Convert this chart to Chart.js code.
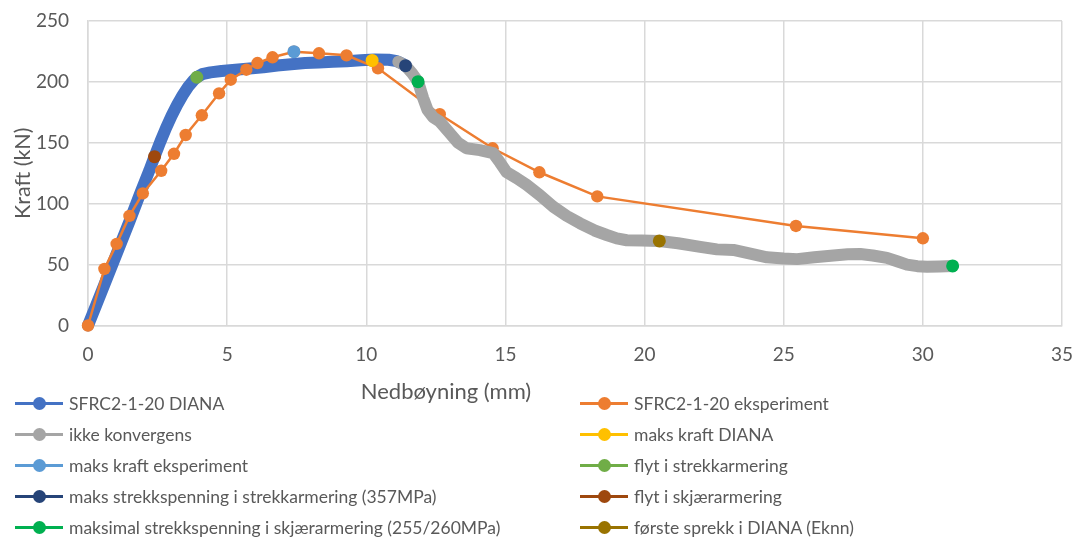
<!DOCTYPE html>
<html>
<head>
<meta charset="utf-8">
<script src="https://cdn.jsdelivr.net/npm/chart.js@4"></script>
<style>
  html, body { margin: 0; padding: 0; background: #ffffff; }
  #wrap { position: relative; width: 1076px; height: 543px; overflow: hidden; }
  #chart { position: absolute; left: 0; top: 0; }
  .xtitle {
    position: absolute; left: 446px; top: 390px; transform: translate(-50%, -50%);
    font-family: Lato, sans-serif; font-size: 22px; color: #595959; white-space: nowrap;
  }
  .item {
    position: absolute; display: flex; align-items: center; height: 24px;
    transform: translateY(-50%);
    font-family: Lato, sans-serif; font-size: 17.5px; color: #595959; white-space: nowrap;
  }
  .sym { position: relative; width: 48px; height: 14px; margin-right: 6px; flex: none; }
  .sym .ln { position: absolute; left: 0; right: 0; top: 5.5px; height: 3px; }
  .sym .dot { position: absolute; left: 18px; top: 0.5px; width: 13px; height: 13px; border-radius: 50%; }
</style>
</head>
<body>
<div id="wrap">
  <canvas id="chart" width="1076" height="543"></canvas>
  <div class="xtitle">Nedbøyning (mm)</div>
  <div id="legend"></div>
</div>
<script>
// Axis ranges and ticks
const xTicks = [0, 5, 10, 15, 20, 25, 30, 35];
const yTicks = [0, 50, 100, 150, 200, 250];

// SFRC2-1-20 DIANA (numerical load-deflection curve)
const dianaX = [0, 0.3, 0.7, 1.1, 1.5, 1.9, 2.2, 2.39, 2.6, 2.8, 3.0, 3.2, 3.4, 3.6, 3.8, 3.91,
  4.1, 4.4, 4.8, 5.3, 5.8, 6.3, 6.8, 7.3, 7.8, 8.3, 8.8, 9.3, 9.8, 10.3, 10.8, 11.1, 11.3, 11.41];
const dianaY = [0, 17, 40, 63, 86, 110, 127, 138.6, 151, 162, 172, 181, 189, 196, 201.5, 203.8,
  206.3, 207.8, 209, 210, 211, 212, 213.5, 214.5, 215.5, 216, 216.5, 217, 217.8, 218.3, 218.2, 217, 215, 213.3];

// SFRC2-1-20 eksperiment (test results)
const eksperimentX = [0, 0.59, 1.03, 1.49, 1.97, 2.63, 3.09, 3.51, 4.09, 4.71, 5.13, 5.69, 6.09, 6.63,
  7.40, 8.30, 9.29, 10.42, 12.64, 14.54, 16.22, 18.30, 25.44, 30.0];
const eksperimentY = [0, 46.4, 67, 90, 108.5, 127, 141, 156.4, 172.6, 190.6, 201.8, 210, 215.5, 220.2,
  224.8, 223.5, 221.8, 211.2, 173.5, 145.5, 125.8, 106, 81.7, 71.6];

// ikke konvergens (DIANA steps without convergence)
const konvergensX = [11.15, 11.41, 11.65, 11.86, 12.04, 12.2, 12.4, 12.64, 13.0, 13.3, 13.6, 14.08, 14.56,
  14.8, 15.04, 15.4, 15.76, 16.24, 16.72, 17.2, 17.68, 18.2, 18.64, 19.0, 19.36, 19.9, 20.53, 21.2, 22.0,
  22.6, 23.19, 23.8, 24.4, 25.0, 25.48, 26.1, 26.79, 27.3, 27.75, 28.2, 28.71, 29.1, 29.43, 29.8, 30.15, 30.6, 31.07];
const konvergensY = [216.5, 213.3, 207, 200.2, 187, 177, 171, 167.5, 158, 150, 145.5, 144, 141.5,
  134, 126, 121, 115.5, 107, 97.5, 90, 83.9, 78, 74.3, 71.5, 70, 69.7, 69.4, 67.5, 64.5,
  62.5, 62, 59, 56, 55, 54.5, 56, 57.5, 58.5, 58.7, 57.5, 55.5, 52.5, 50, 48.7, 48.3, 48.5, 48.9];

// Single marked events [deflection, force]
const maksKraftDianaX = [10.21], maksKraftDianaY = [217.6];
const maksKraftEksperimentX = [7.40], maksKraftEksperimentY = [224.8];
const flytStrekkX = [3.91], flytStrekkY = [203.8];
const maksStrekkspenningX = [11.41], maksStrekkspenningY = [213.3];
const flytSkjaerX = [2.39], flytSkjaerY = [138.6];
const maksimalSkjaerX = [11.86, 31.07], maksimalSkjaerY = [200.2, 48.9];
const forsteSprekkX = [20.53], forsteSprekkY = [69.4];

const toPoints = (xs, ys) => xs.map((x, i) => ({ x: x, y: ys[i] }));

function band(label, xs, ys, color, order) {
  return {
    label, data: toPoints(xs, ys), showLine: true, borderColor: color, backgroundColor: color,
    borderWidth: 12, borderJoinStyle: 'round', borderCapStyle: 'round',
    pointRadius: 0, order, clip: false
  };
}
function marker(label, xs, ys, color) {
  return {
    label, data: toPoints(xs, ys), showLine: false, borderColor: color, backgroundColor: color,
    pointRadius: 6.5, pointBorderWidth: 0, order: 0, clip: false
  };
}

const datasets = [
  band('SFRC2-1-20 DIANA', dianaX, dianaY, '#4472C4', 30),
  {
    label: 'SFRC2-1-20 eksperiment', data: toPoints(eksperimentX, eksperimentY), showLine: true,
    borderColor: '#ED7D31', backgroundColor: '#ED7D31', borderWidth: 2.5,
    pointRadius: 6.2, pointBorderWidth: 0, order: 20, clip: false
  },
  band('ikke konvergens', konvergensX, konvergensY, '#A5A5A5', 10),
  marker('maks kraft DIANA', maksKraftDianaX, maksKraftDianaY, '#FFC000'),
  marker('maks kraft eksperiment', maksKraftEksperimentX, maksKraftEksperimentY, '#5B9BD5'),
  marker('flyt i strekkarmering', flytStrekkX, flytStrekkY, '#70AD47'),
  marker('maks strekkspenning i strekkarmering (357MPa)', maksStrekkspenningX, maksStrekkspenningY, '#264478'),
  marker('flyt i skjærarmering', flytSkjaerX, flytSkjaerY, '#9E480E'),
  marker('maksimal strekkspenning i skjærarmering (255/260MPa)', maksimalSkjaerX, maksimalSkjaerY, '#00B050'),
  marker('første sprekk i DIANA (Eknn)', forsteSprekkX, forsteSprekkY, '#997300')
];

const textColor = '#595959';
const gridColor = '#D9D9D9';

new Chart(document.getElementById('chart'), {
  type: 'scatter',
  data: { datasets },
  options: {
    responsive: false,
    animation: false,
    events: [],
    layout: { padding: { top: 21, right: 14, left: 0, bottom: 0 } },
    plugins: { legend: { display: false }, tooltip: { enabled: false } },
    scales: {
      x: {
        type: 'linear', min: xTicks[0], max: xTicks[xTicks.length - 1],
        afterBuildTicks: s => { s.ticks = xTicks.map(v => ({ value: v })); },
        ticks: { padding: 18, color: textColor, font: { family: 'Lato', size: 19 } },
        grid: { color: gridColor, lineWidth: 1.5, drawTicks: false },
        border: { color: gridColor, width: 1.5 },
        afterFit: s => { s.height = 217.5; s.paddingLeft = 0; s.paddingRight = 0; }
      },
      y: {
        type: 'linear', min: yTicks[0], max: yTicks[yTicks.length - 1],
        afterBuildTicks: s => { s.ticks = yTicks.map(v => ({ value: v })); },
        ticks: { padding: 19, color: textColor, font: { family: 'Lato', size: 19 } },
        grid: { color: gridColor, lineWidth: 1.5, drawTicks: false },
        border: { color: gridColor, width: 1.5 },
        title: {
          display: true, text: 'Kraft (kN)', color: textColor,
          font: { family: 'Lato', size: 21.5 }, padding: { top: 10, bottom: 0 }
        },
        afterFit: s => { s.width = 88; s.paddingTop = 0; s.paddingBottom = 0; }
      }
    }
  }
});

// Legend: two columns, line with centred marker
const legend = document.getElementById('legend');
const colLeft = [15, 580];
const rowTop = 403, rowStep = 31;
datasets.forEach((ds, i) => {
  const item = document.createElement('div');
  item.className = 'item';
  item.style.left = colLeft[i % 2] + 'px';
  item.style.top = (rowTop + rowStep * Math.floor(i / 2)) + 'px';
  const sym = document.createElement('span');
  sym.className = 'sym';
  sym.innerHTML = '<span class="ln" style="background:' + ds.borderColor + '"></span>' +
    '<span class="dot" style="background:' + ds.borderColor + '"></span>';
  const txt = document.createElement('span');
  txt.textContent = ds.label;
  item.appendChild(sym);
  item.appendChild(txt);
  legend.appendChild(item);
});
</script>
</body>
</html>
